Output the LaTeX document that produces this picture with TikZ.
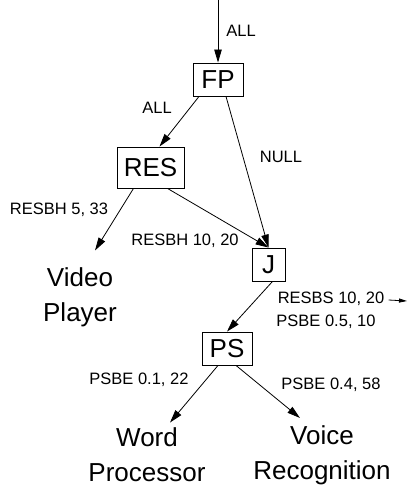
\documentclass[tikz,border=0pt]{standalone}
\usepackage{fontspec}
\setmainfont{Liberation Sans}
\usetikzlibrary{arrows.meta,positioning,calc}

\begin{document}
\begin{tikzpicture}[x=1pt,y=-1pt,
  box/.style={draw,line width=0.9pt,inner sep=0pt,font=\fontsize{26}{30}\selectfont},
  app/.style={align=center,inner sep=0pt,font=\fontsize{26}{35}\selectfont},
  lbl/.style={inner sep=0pt,font=\fontsize{16.5}{20}\selectfont},
  >={Triangle[length=13pt,width=7.5pt]},line width=0.8pt]
\useasboundingbox (0,0) rectangle (414,486);
\coordinate (top) at (218,0);
\coordinate (out) at (407,301);
\node[box,minimum width=50pt,minimum height=33pt] (fp) at (218,79.5) {FP};
\node[box,minimum width=67pt,minimum height=41pt] (res) at (150.5,167.5) {RES};
\node[box,minimum width=33pt,minimum height=33pt] (j) at (268.5,264.5) {J};
\node[box,minimum width=50pt,minimum height=33pt] (ps) at (227,348.5) {PS};
\node[app] (video) at (80,297.5) {Video\\Player};
\node[app] (word) at (147,455) {Word\\Processor};
\node[app] (voice) at (322,455) {Voice\\Recognition};
\draw[->] (top) -- (fp);
\draw[->] ([xshift=-19pt]fp.south) -- ([xshift=9pt]res.north);
\draw[->] ([xshift=8pt]fp.south) -- (j.north);
\draw[->] ([xshift=-17pt]res.south) -- ([xshift=15pt,yshift=17pt]video.north);
\draw[->] ([xshift=17pt]res.south) -- (j.north);
\draw[->] ([xshift=4pt]j.south) -- (ps.north);
\draw[->] ([xshift=-9pt]ps.south) -- ([xshift=23pt,yshift=5pt]word.north);
\draw[->] ([xshift=9pt]ps.south) -- ([xshift=-22pt,yshift=7pt]voice.north);
% edge labels
\node[lbl] (l1) at (241,31) {ALL};
\node[lbl] (l2) at (157,108) {ALL};
\node[lbl] (l3) at (281,157) {NULL};
\node[lbl] (l4) at (59,210) {RESBH 5, 33};
\node[lbl] (l5) at (185,241) {RESBH 10, 20};
\node[lbl] (resbs) at (331,299) {RESBS 10, 20};
\node[lbl] (l7) at (326,322) {PSBE 0.5, 10};
\node[lbl] (l8) at (139,380) {PSBE 0.1, 22};
\node[lbl] (l9) at (331,385) {PSBE 0.4, 58};
\draw[-{Triangle[length=8pt,width=4pt]}] ([xshift=4pt,yshift=-1pt]resbs.east) -- (out);
\end{tikzpicture}
\end{document}
